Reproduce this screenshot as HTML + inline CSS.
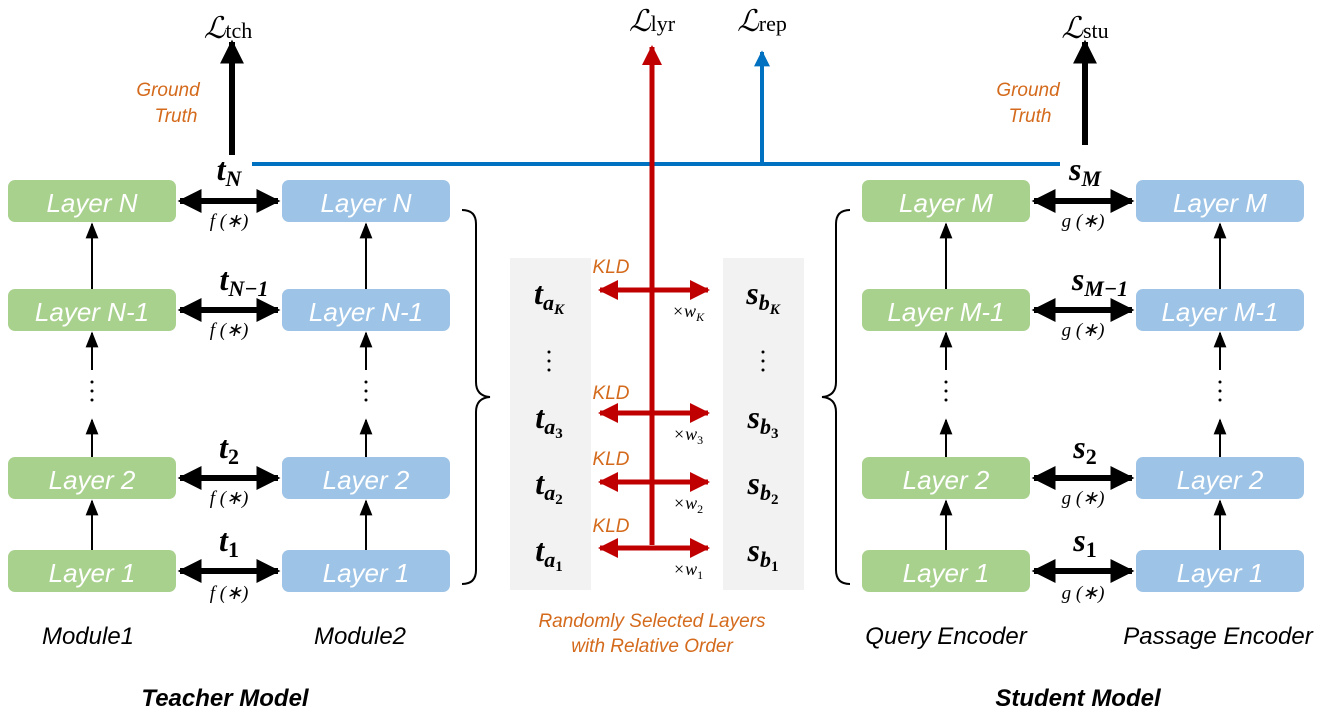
<!DOCTYPE html>
<html><head><meta charset="utf-8"><style>
body{margin:0;background:#fff}
.bx{font-family:"Liberation Sans",sans-serif;font-style:italic;font-size:26px;fill:#fff;text-anchor:middle}
.m{font-family:"Liberation Serif",serif;font-weight:bold;font-style:italic;font-size:32px;text-anchor:middle}
.f{font-family:"Liberation Serif",serif;font-style:italic;font-size:19px;text-anchor:middle}
.o{font-family:"Liberation Sans",sans-serif;fill:#d46a1c;font-style:italic;font-size:19px;text-anchor:middle}
.k{font-family:"Liberation Sans",sans-serif;fill:#000;font-style:italic;font-size:24px;text-anchor:middle}
.w{font-family:"Liberation Serif",serif;font-style:italic;font-size:18px;text-anchor:middle}
.L{font-family:"Liberation Serif",serif;font-size:30px;text-anchor:middle}
</style></head><body>
<svg width="1329" height="715" viewBox="0 0 1329 715" xmlns="http://www.w3.org/2000/svg">
<defs>
<marker id="ab" viewBox="0 0 10 10" refX="9" refY="5" markerWidth="4" markerHeight="4" orient="auto-start-reverse"><path d="M0,0L10,5L0,10z" fill="#000"/></marker>
<marker id="as" viewBox="0 0 10 10" refX="9" refY="5" markerWidth="8" markerHeight="8" orient="auto-start-reverse"><path d="M0,1L10,5L0,9z" fill="#000"/></marker>
<marker id="ar" viewBox="0 0 10 10" refX="9" refY="5" markerWidth="4" markerHeight="4" orient="auto-start-reverse"><path d="M0,0L10,5L0,10z" fill="#c00000"/></marker>
<marker id="au" viewBox="0 0 10 10" refX="9" refY="5" markerWidth="4" markerHeight="4" orient="auto-start-reverse"><path d="M0,0L10,5L0,10z" fill="#0070c0"/></marker>
</defs>
<rect x="510" y="258" width="81" height="332" fill="#f2f2f2"/>
<rect x="723" y="258" width="81" height="332" fill="#f2f2f2"/>
<g fill="#a9d18e">
<rect x="8" y="180" width="168" height="42" rx="7"/><rect x="8" y="289" width="168" height="42" rx="7"/><rect x="8" y="457" width="168" height="42" rx="7"/><rect x="8" y="550" width="168" height="42" rx="7"/>
<rect x="862" y="180" width="168" height="42" rx="7"/><rect x="862" y="289" width="168" height="42" rx="7"/><rect x="862" y="457" width="168" height="42" rx="7"/><rect x="862" y="550" width="168" height="42" rx="7"/>
</g>
<g fill="#9dc3e6">
<rect x="282" y="180" width="168" height="42" rx="7"/><rect x="282" y="289" width="168" height="42" rx="7"/><rect x="282" y="457" width="168" height="42" rx="7"/><rect x="282" y="550" width="168" height="42" rx="7"/>
<rect x="1136" y="180" width="168" height="42" rx="7"/><rect x="1136" y="289" width="168" height="42" rx="7"/><rect x="1136" y="457" width="168" height="42" rx="7"/><rect x="1136" y="550" width="168" height="42" rx="7"/>
</g>
<g class="bx">
<text x="92" y="212">Layer N</text><text x="92" y="321">Layer N-1</text><text x="92" y="489">Layer 2</text><text x="92" y="582">Layer 1</text>
<text x="366" y="212">Layer N</text><text x="366" y="321">Layer N-1</text><text x="366" y="489">Layer 2</text><text x="366" y="582">Layer 1</text>
<text x="946" y="212">Layer M</text><text x="946" y="321">Layer M-1</text><text x="946" y="489">Layer 2</text><text x="946" y="582">Layer 1</text>
<text x="1220" y="212">Layer M</text><text x="1220" y="321">Layer M-1</text><text x="1220" y="489">Layer 2</text><text x="1220" y="582">Layer 1</text>
</g>
<g stroke="#000" stroke-width="2" fill="none" marker-end="url(#as)">
<line x1="92" y1="289" x2="92" y2="224"/><line x1="366" y1="289" x2="366" y2="224"/><line x1="946" y1="289" x2="946" y2="224"/><line x1="1220" y1="289" x2="1220" y2="224"/>
<line x1="92" y1="550" x2="92" y2="501"/><line x1="366" y1="550" x2="366" y2="501"/><line x1="946" y1="550" x2="946" y2="501"/><line x1="1220" y1="550" x2="1220" y2="501"/>
<line x1="92" y1="457" x2="92" y2="420"/><line x1="366" y1="457" x2="366" y2="420"/><line x1="946" y1="457" x2="946" y2="420"/><line x1="1220" y1="457" x2="1220" y2="420"/>
<line x1="92" y1="370" x2="92" y2="333"/><line x1="366" y1="370" x2="366" y2="333"/><line x1="946" y1="370" x2="946" y2="333"/><line x1="1220" y1="370" x2="1220" y2="333"/>
</g>
<g fill="#000">
<circle cx="92" cy="382" r="1.5"/><circle cx="92" cy="391" r="1.5"/><circle cx="92" cy="400" r="1.5"/>
<circle cx="366" cy="382" r="1.5"/><circle cx="366" cy="391" r="1.5"/><circle cx="366" cy="400" r="1.5"/>
<circle cx="946" cy="382" r="1.5"/><circle cx="946" cy="391" r="1.5"/><circle cx="946" cy="400" r="1.5"/>
<circle cx="1220" cy="382" r="1.5"/><circle cx="1220" cy="391" r="1.5"/><circle cx="1220" cy="400" r="1.5"/>
<circle cx="549" cy="352" r="1.5"/><circle cx="549" cy="361" r="1.5"/><circle cx="549" cy="370" r="1.5"/>
<circle cx="763" cy="352" r="1.5"/><circle cx="763" cy="361" r="1.5"/><circle cx="763" cy="370" r="1.5"/>
</g>
<g stroke="#000" stroke-width="6" marker-start="url(#ab)" marker-end="url(#ab)">
<line x1="180" y1="201" x2="278" y2="201"/><line x1="180" y1="310" x2="278" y2="310"/><line x1="180" y1="478" x2="278" y2="478"/><line x1="180" y1="571" x2="278" y2="571"/>
<line x1="1034" y1="201" x2="1132" y2="201"/><line x1="1034" y1="310" x2="1132" y2="310"/><line x1="1034" y1="478" x2="1132" y2="478"/><line x1="1034" y1="571" x2="1132" y2="571"/>
</g>
<g class="f">
<text x="229" y="227">f (∗)</text><text x="229" y="336">f (∗)</text><text x="229" y="504">f (∗)</text><text x="229" y="599">f (∗)</text>
<text x="1083" y="227">g (∗)</text><text x="1083" y="336">g (∗)</text><text x="1083" y="504">g (∗)</text><text x="1083" y="599">g (∗)</text>
</g>
<g class="m">
<text x="229" y="180">t<tspan font-size="22" dy="6">N</tspan></text>
<text x="244" y="290">t<tspan font-size="22" dy="6">N−1</tspan></text>
<text x="229" y="458">t<tspan font-size="22" dy="6" font-style="normal">2</tspan></text>
<text x="229" y="551">t<tspan font-size="22" dy="6" font-style="normal">1</tspan></text>
<text x="1085" y="180">s<tspan font-size="22" dy="6">M</tspan></text>
<text x="1100" y="290">s<tspan font-size="22" dy="6">M−1</tspan></text>
<text x="1085" y="458">s<tspan font-size="22" dy="6" font-style="normal">2</tspan></text>
<text x="1085" y="551">s<tspan font-size="22" dy="6" font-style="normal">1</tspan></text>
<text x="549" y="304">t<tspan font-size="22" dy="6">a</tspan><tspan font-size="15" dy="4">K</tspan></text>
<text x="549" y="428">t<tspan font-size="22" dy="6">a</tspan><tspan font-size="15" dy="4" font-style="normal">3</tspan></text>
<text x="549" y="494">t<tspan font-size="22" dy="6">a</tspan><tspan font-size="15" dy="4" font-style="normal">2</tspan></text>
<text x="549" y="561">t<tspan font-size="22" dy="6">a</tspan><tspan font-size="15" dy="4" font-style="normal">1</tspan></text>
<text x="763" y="304">s<tspan font-size="22" dy="6">b</tspan><tspan font-size="15" dy="4">K</tspan></text>
<text x="763" y="428">s<tspan font-size="22" dy="6">b</tspan><tspan font-size="15" dy="4" font-style="normal">3</tspan></text>
<text x="763" y="494">s<tspan font-size="22" dy="6">b</tspan><tspan font-size="15" dy="4" font-style="normal">2</tspan></text>
<text x="763" y="561">s<tspan font-size="22" dy="6">b</tspan><tspan font-size="15" dy="4" font-style="normal">1</tspan></text>
</g>
<g stroke="#000" stroke-width="6" marker-end="url(#ab)">
<line x1="232" y1="155" x2="232" y2="42"/><line x1="1085" y1="145" x2="1085" y2="42"/>
</g>
<line x1="252" y1="164" x2="1060" y2="164" stroke="#0070c0" stroke-width="4"/>
<line x1="762" y1="164" x2="762" y2="52" stroke="#0070c0" stroke-width="4" marker-end="url(#au)"/>
<line x1="652" y1="545" x2="652" y2="47" stroke="#c00000" stroke-width="5" marker-end="url(#ar)"/>
<g stroke="#c00000" stroke-width="5" marker-start="url(#ar)" marker-end="url(#ar)">
<line x1="600" y1="290" x2="708" y2="290"/><line x1="600" y1="413" x2="708" y2="413"/><line x1="600" y1="482" x2="708" y2="482"/><line x1="600" y1="548" x2="708" y2="548"/>
</g>
<g class="o">
<text x="611" y="273">KLD</text><text x="611" y="399">KLD</text><text x="611" y="465">KLD</text><text x="611" y="532">KLD</text>
<text x="168" y="96">Ground</text><text x="176" y="122">Truth</text>
<text x="1028" y="96">Ground</text><text x="1030" y="122">Truth</text>
<text x="652" y="627">Randomly Selected Layers</text><text x="652" y="652">with Relative Order</text>
</g>
<g class="w">
<text x="688" y="317">×w<tspan font-size="12" dy="4">K</tspan></text>
<text x="688" y="440">×w<tspan font-size="12" dy="4" font-style="normal">3</tspan></text>
<text x="688" y="509">×w<tspan font-size="12" dy="4" font-style="normal">2</tspan></text>
<text x="688" y="575">×w<tspan font-size="12" dy="4" font-style="normal">1</tspan></text>
</g>
<g class="L">
<text x="228" y="38"><tspan font-style="italic">ℒ</tspan><tspan font-size="22">tch</tspan></text>
<text x="652" y="31"><tspan font-style="italic">ℒ</tspan><tspan font-size="22">lyr</tspan></text>
<text x="762" y="31"><tspan font-style="italic">ℒ</tspan><tspan font-size="22">rep</tspan></text>
<text x="1085" y="38"><tspan font-style="italic">ℒ</tspan><tspan font-size="22">stu</tspan></text>
</g>
<path d="M462,210 Q476,210 476,224 L476,382 Q476,396 490,397 Q476,398 476,412 L476,570 Q476,584 462,584" fill="none" stroke="#000" stroke-width="2"/>
<path d="M850,210 Q836,210 836,224 L836,382 Q836,396 822,397 Q836,398 836,412 L836,570 Q836,584 850,584" fill="none" stroke="#000" stroke-width="2"/>
<g class="k">
<text x="88" y="644">Module1</text><text x="360" y="644">Module2</text>
<text x="946" y="644">Query Encoder</text><text x="1218" y="644">Passage Encoder</text>
<text x="225" y="706" font-weight="bold">Teacher Model</text><text x="1078" y="706" font-weight="bold">Student Model</text>
</g>
</svg>
</body></html>
